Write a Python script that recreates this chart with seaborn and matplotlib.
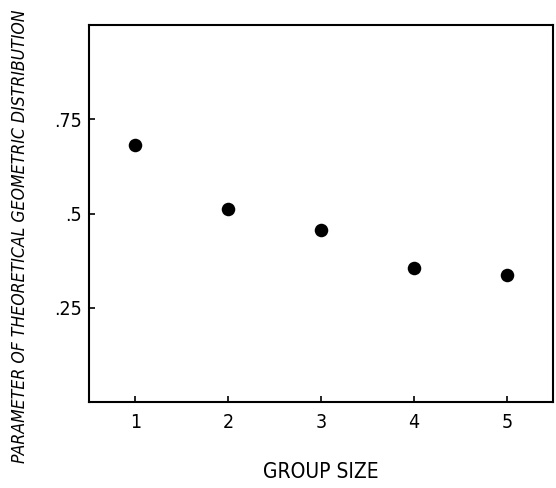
import matplotlib
matplotlib.use("Agg")
import matplotlib.pyplot as plt
import pandas as pd
import seaborn as sns

group_size = [1, 2, 3, 4, 5]
parameter = [0.682, 0.513, 0.457, 0.355, 0.337]
y_ticks = [0.25, 0.5, 0.75]
y_tick_labels = [".25", ".5", ".75"]

sns.set_theme(style="ticks")
plt.rcParams["font.family"] = ["DejaVu Sans"]
plt.rcParams["font.stretch"] = "condensed"
plt.rcParams["text.color"] = "black"
plt.rcParams["xtick.color"] = "black"
plt.rcParams["ytick.color"] = "black"
plt.rcParams["axes.labelcolor"] = "black"

df = pd.DataFrame({"group": group_size, "param": parameter})

fig = plt.figure(figsize=(5.56, 4.88), dpi=100)
ax = fig.add_axes([0.160, 0.176, 0.835, 0.773])
sns.scatterplot(data=df, x="group", y="param", ax=ax, color="black", s=95,
                edgecolor="black", linewidth=0, legend=False)

ax.set_xlim(0.5, 5.5)
ax.set_ylim(0, 1.0)
ax.set_xticks(group_size)
ax.set_xticklabels([str(g) for g in group_size], fontsize=14)
ax.set_yticks(y_ticks)
ax.set_yticklabels(y_tick_labels, fontsize=14)
ax.tick_params(axis="x", direction="in", length=4, width=1.2, pad=8)
ax.tick_params(axis="y", direction="in", length=4, width=1.2, pad=5)
for s in ax.spines.values():
    s.set_linewidth(1.5)
    s.set_color("black")

ax.set_xlabel("GROUP SIZE", fontsize=15)
ax.xaxis.set_label_coords(0.5, -0.158)
ax.set_ylabel("PARAMETER OF THEORETICAL GEOMETRIC DISTRIBUTION", fontsize=12.6,
              style="italic")
ax.yaxis.set_label_coords(-0.13, 0.44)

fig.savefig("out.png", dpi=100)
